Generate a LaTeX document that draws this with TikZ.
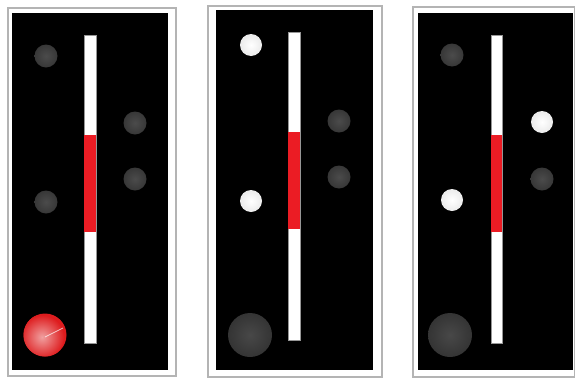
\documentclass[tikz,border=0pt]{standalone}
\definecolor{framegray}{RGB}{180,180,180}
\definecolor{bargray}{RGB}{150,150,150}
\definecolor{barred}{RGB}{235,28,36}
\definecolor{dimin}{RGB}{75,75,75}
\definecolor{dimout}{RGB}{55,55,55}
\definecolor{litout}{RGB}{235,235,235}
\definecolor{bigin}{RGB}{72,72,72}
\definecolor{bigout}{RGB}{52,52,52}
\definecolor{ballred}{RGB}{222,28,30}
\definecolor{ballpink}{RGB}{240,160,160}
\begin{document}
\begin{tikzpicture}[x=1pt,y=-1pt,
  framebox/.style={draw=framegray,line width=2.2pt,fill=white},
  blackbox/.style={fill=black,draw=none},
  whitebar/.style={fill=white,draw=bargray,line width=0.4pt},
  redbar/.style={fill=barred,draw=none},
  dimdot/.style={circle,inner sep=0pt,minimum size=23pt,shading=radial,inner color=dimin,outer color=dimout},
  litdot/.style={circle,inner sep=0pt,minimum size=22pt,shading=radial,inner color=white,outer color=litout},
  bigdot/.style={circle,inner sep=0pt,minimum size=44pt,shading=radial,inner color=bigin,outer color=bigout},
  redball/.style={circle,inner sep=0pt,minimum size=43pt,fill=ballred}
]
\clip (0,0) rectangle (575,378);
\fill[white] (0,0) rectangle (575,378);

% ---------- panel 1 ----------
\draw[framebox] (8,8) rectangle (176,376);
\fill[blackbox] (12,13) rectangle (168,370);
\draw[whitebar] (84,35) rectangle (96,343);
\fill[redbar] (84,135) rectangle (96,232);
\node[dimdot] (a1) at (46,56) {};
\node[dimdot] (a2) at (135,123) {};
\node[dimdot] (a3) at (135,179) {};
\node[dimdot] (a4) at (46,202) {};
\node[redball] (a5) at (45,335) {};
\begin{scope}
\clip (45,335) circle (21.5);
\shade[inner color=ballpink,outer color=ballred] (42,337) circle (22);
\end{scope}
\draw[white,line width=0.8pt,opacity=0.7] (45,337) -- (63,328);

% ---------- panel 2 ----------
\draw[framebox] (208,6) rectangle (382,377);
\fill[blackbox] (216,10) rectangle (373,370);
\draw[whitebar] (288,32) rectangle (300,340);
\fill[redbar] (288,132) rectangle (300,229);
\node[litdot] (b1) at (251,45) {};
\node[dimdot] (b2) at (339,121) {};
\node[dimdot] (b3) at (339,177) {};
\node[litdot] (b4) at (251,201) {};
\node[bigdot] (b5) at (250,335) {};

% ---------- panel 3 ----------
\draw[framebox] (413,7) rectangle (575,377);
\fill[blackbox] (418,13) rectangle (573,370);
\draw[whitebar] (491,35) rectangle (502,343);
\fill[redbar] (491,135) rectangle (502,232);
\node[dimdot] (c1) at (452,55) {};
\node[litdot] (c2) at (542,122) {};
\node[dimdot] (c3) at (542,179) {};
\node[litdot] (c4) at (452,200) {};
\node[bigdot] (c5) at (450,335) {};
\end{tikzpicture}
\end{document}
